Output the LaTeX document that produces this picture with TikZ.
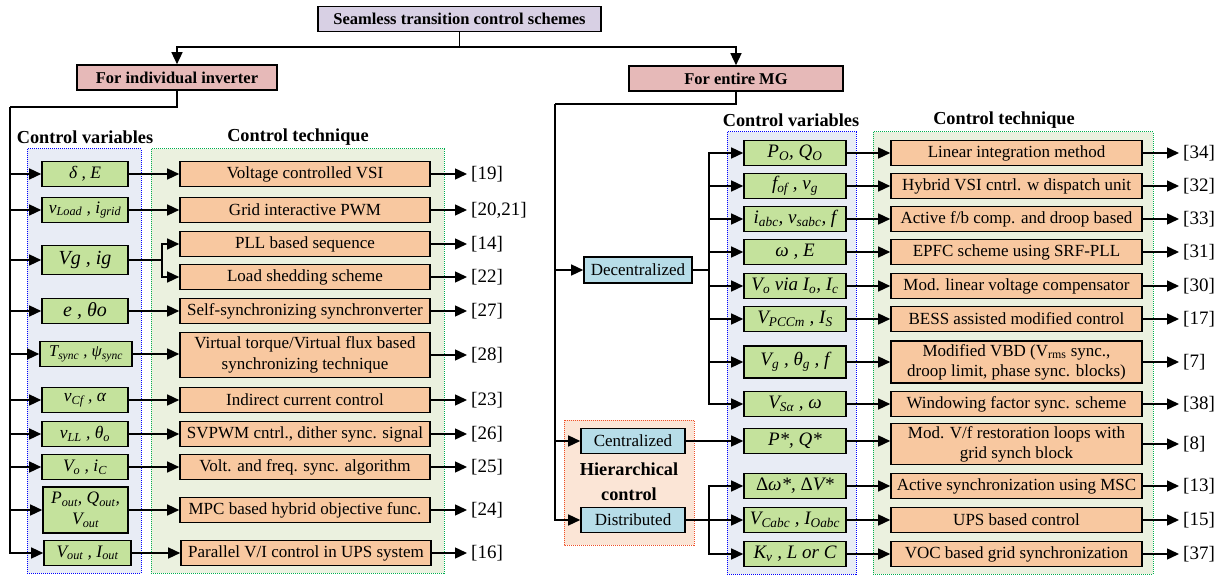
\documentclass[tikz,border=0pt]{standalone}
\usepackage{fontspec}
\setmainfont{Liberation Serif}
\usetikzlibrary{arrows.meta}

\definecolor{titlefill}{RGB}{216,208,228}
\definecolor{groupfill}{RGB}{230,185,184}
\definecolor{varfill}{RGB}{196,226,156}
\definecolor{techfill}{RGB}{248,200,160}
\definecolor{catfill}{RGB}{183,221,232}
\definecolor{varback}{RGB}{232,236,245}
\definecolor{techback}{RGB}{235,241,223}
\definecolor{hierback}{RGB}{251,229,214}
\definecolor{techline}{RGB}{0,176,80}
\definecolor{hierline}{RGB}{240,80,40}

\tikzset{
  box/.style={draw=black, line width=1.6pt, inner sep=1pt, align=center},
  titlebox/.style={box, fill=titlefill, minimum height=25pt, font=\fontsize{16.5}{18}\selectfont\bfseries},
  groupbox/.style={box, fill=groupfill, minimum height=25pt, font=\fontsize{16.5}{18}\selectfont\bfseries},
  varbox/.style={box, fill=varfill, minimum height=25pt, font=\fontsize{17.5}{21}\selectfont\itshape},
  rvarbox/.style={varbox, minimum width=102pt, font=\fontsize{19}{21}\selectfont\itshape},
  techbox/.style={box, fill=techfill, minimum width=250pt, minimum height=25pt, font=\fontsize{17}{20.5}\selectfont},
  catbox/.style={box, fill=catfill, minimum height=25pt, font=\fontsize{17}{19}\selectfont},
  refnum/.style={anchor=west, inner sep=4pt, font=\fontsize{19}{21}\selectfont},
  heading/.style={font=\fontsize{18.3}{21}\selectfont\bfseries},
  region/.style={line width=1pt, densely dotted},
  wire/.style={line width=1.4pt},
  arr/.style={line width=1.4pt, -{Triangle[length=12pt,width=11pt]}},
}

\begin{document}
\begin{tikzpicture}[x=1pt,y=-1pt]
    \useasboundingbox (0,0) rectangle (1224,577);

    % shaded groups
    \draw[region, draw=blue, fill=varback] (27,149) rectangle (141,573);
    \draw[region, draw=techline, fill=techback] (151,149) rectangle (444,573);
    \draw[region, draw=blue, fill=varback] (727,132) rectangle (856,574);
    \draw[region, draw=techline, fill=techback] (873,132) rectangle (1153,574);
    \draw[region, draw=hierline, fill=hierback] (564,420) rectangle (694,545);

    \node[heading] at (85,137) {Control variables};
    \node[heading] at (298,137) {Control technique};
    \node[heading] at (791,120) {Control variables};
    \node[heading] at (1004,120) {Control technique};
    \node[heading, align=center, font=\fontsize{18.3}{25}\selectfont\bfseries] (hiertxt) at (629,482) {Hierarchical\\control};

    % top levels
    \node[titlebox, minimum width=283pt] (title) at (459.5,19) {Seamless transition control schemes};
    \node[groupbox, minimum width=200pt] (indiv) at (177,77.5) {For individual inverter};
    \node[groupbox, minimum width=214pt] (entire) at (736,78.5) {For entire MG};
    \coordinate (split) at (459.5,47);
    \draw[wire] (title) -- (split);
    \draw[arr] (split) -| (indiv);
    \draw[arr] (split) -| (entire);

    % individual inverter: variables
    \node[varbox, minimum width=86pt] (lv1) at (85,174) {δ , E};
    \node[varbox, minimum width=86pt] (lv2) at (85,210) {v\textsubscript{Load} , i\textsubscript{grid}};
    \node[varbox, minimum width=86pt, minimum height=29pt, font=\fontsize{20}{21}\selectfont\itshape] (lv3) at (85,260) {Vg , ig};
    \node[varbox, minimum width=86pt, font=\fontsize{20}{21}\selectfont\itshape] (lv4) at (85,311) {e , θo};
    \node[varbox, minimum width=92pt, font=\fontsize{16.5}{21}\selectfont\itshape] (lv5) at (86,354) {T\textsubscript{sync} , ψ\textsubscript{sync}};
    \node[varbox, minimum width=86pt] (lv6) at (85,400) {v\textsubscript{Cf} , α};
    \node[varbox, minimum width=86pt] (lv7) at (85,434) {v\textsubscript{LL} , θ\textsubscript{o}};
    \node[varbox, minimum width=86pt] (lv8) at (85,467) {V\textsubscript{o} , i\textsubscript{C}};
    \node[varbox, minimum width=85pt, minimum height=46pt] (lv9) at (85.5,510) {P\textsubscript{out}, Q\textsubscript{out},\\V\textsubscript{out}};
    \node[varbox, minimum width=87pt] (lv10) at (87.5,553) {V\textsubscript{out} , I\textsubscript{out}};

    % individual inverter: techniques
    \node[techbox] (lt1) at (305,174) {Voltage controlled VSI};
    \node[techbox] (lt2) at (305,210) {Grid interactive PWM};
    \node[techbox] (lt3a) at (305,244) {PLL based sequence};
    \node[techbox] (lt3b) at (305,277) {Load shedding scheme};
    \node[techbox] (lt4) at (305,311) {Self-synchronizing synchronverter};
    \node[techbox, minimum height=45pt] (lt5) at (305,355) {Virtual torque/Virtual flux based\\synchronizing technique};
    \node[techbox] (lt6) at (305,400) {Indirect current control};
    \node[techbox] (lt7) at (305,434) {SVPWM cntrl., dither sync. signal};
    \node[techbox] (lt8) at (305,467) {Volt. and freq. sync. algorithm};
    \node[techbox] (lt9) at (305,510) {MPC based hybrid objective func.};
    \node[techbox] (lt10) at (306,553) {Parallel V/I control in UPS system};

    \node[refnum] (c19) at (467,174) {[19]};
    \node[refnum] (c20) at (467,210) {[20,21]};
    \node[refnum] (c14) at (467,244) {[14]};
    \node[refnum] (c22) at (467,277) {[22]};
    \node[refnum] (c27) at (467,311) {[27]};
    \node[refnum] (c28) at (467,355) {[28]};
    \node[refnum] (c23) at (467,400) {[23]};
    \node[refnum] (c26) at (467,434) {[26]};
    \node[refnum] (c25) at (467,467) {[25]};
    \node[refnum] (c24) at (467,510) {[24]};
    \node[refnum] (c16) at (467,553) {[16]};

    \coordinate (lbus) at (10,107);
    \draw[wire] (indiv) |- (lbus);
    \draw[arr] (lbus) |- (lv10);
    \draw[arr] (lbus |- lv1) -- (lv1);
    \draw[arr] (lbus |- lv2) -- (lv2);
    \draw[arr] (lbus |- lv3) -- (lv3);
    \draw[arr] (lbus |- lv4) -- (lv4);
    \draw[arr] (lbus |- lv5) -- (lv5);
    \draw[arr] (lbus |- lv6) -- (lv6);
    \draw[arr] (lbus |- lv7) -- (lv7);
    \draw[arr] (lbus |- lv8) -- (lv8);
    \draw[arr] (lbus |- lv9) -- (lv9);

    \draw[arr] (lv1) -- (lt1);
    \draw[arr] (lv2) -- (lt2);
    \coordinate (lsplit) at (162,260);
    \draw[wire] (lv3) -- (lsplit);
    \draw[arr] (lsplit) |- (lt3a);
    \draw[arr] (lsplit) |- (lt3b);
    \draw[arr] (lv4) -- (lt4);
    \draw[arr] (lv5.east) -- (lv5.east -| lt5.west);
    \draw[arr] (lv6) -- (lt6);
    \draw[arr] (lv7) -- (lt7);
    \draw[arr] (lv8) -- (lt8);
    \draw[arr] (lv9) -- (lt9);
    \draw[arr] (lv10) -- (lt10);

    \draw[arr] (lt1) -- (c19);
    \draw[arr] (lt2) -- (c20);
    \draw[arr] (lt3a) -- (c14);
    \draw[arr] (lt3b) -- (c22);
    \draw[arr] (lt4) -- (c27);
    \draw[arr] (lt5) -- (c28);
    \draw[arr] (lt6) -- (c23);
    \draw[arr] (lt7) -- (c26);
    \draw[arr] (lt8) -- (c25);
    \draw[arr] (lt9) -- (c24);
    \draw[arr] (lt10) -- (c16);

    % entire MG: control levels
    \node[catbox, minimum width=108pt, minimum height=26pt] (dec) at (638,270) {Decentralized};
    \node[catbox, minimum width=104pt] (cen) at (633,441) {Centralized};
    \node[catbox, minimum width=104pt] (dist) at (633,520) {Distributed};

    % entire MG: variables
    \node[rvarbox] (rv1) at (795,153) {P\textsubscript{O}, Q\textsubscript{O}};
    \node[rvarbox] (rv2) at (795,186) {f\textsubscript{of} , v\textsubscript{g}};
    \node[rvarbox] (rv3) at (795,219) {i\textsubscript{abc}, v\textsubscript{sabc}, f};
    \node[rvarbox] (rv4) at (795,252) {ω , E};
    \node[rvarbox] (rv5) at (795,286) {V\textsubscript{o} via I\textsubscript{o}, I\textsubscript{c}};
    \node[rvarbox] (rv6) at (795,319) {V\textsubscript{PCCm} , I\textsubscript{S}};
    \node[rvarbox, minimum height=32pt] (rv7) at (795,362) {V\textsubscript{g} , θ\textsubscript{g} , f};
    \node[rvarbox] (rv8) at (795,404) {V\textsubscript{Sα} , ω};
    \node[rvarbox] (rv9) at (795,441) {P*, Q*};
    \node[rvarbox] (rv10) at (795,486) {{\upshape Δ}ω*, {\upshape Δ}V*};
    \node[rvarbox] (rv11) at (795,520) {V\textsubscript{Cabc} , I\textsubscript{Oabc}};
    \node[rvarbox] (rv12) at (795,554) {K\textsubscript{v} , L or C};

    % entire MG: techniques
    \node[techbox, minimum width=251pt] (rt1) at (1016.5,153) {Linear integration method};
    \node[techbox, minimum width=251pt] (rt2) at (1016.5,186) {Hybrid VSI cntrl. w dispatch unit};
    \node[techbox, minimum width=251pt] (rt3) at (1016.5,219) {Active f/b comp. and droop based};
    \node[techbox, minimum width=251pt] (rt4) at (1016.5,252) {EPFC scheme using SRF-PLL};
    \node[techbox, minimum width=251pt] (rt5) at (1016.5,286) {Mod. linear voltage compensator};
    \node[techbox, minimum width=251pt] (rt6) at (1016.5,319) {BESS assisted modified control};
    \node[techbox, minimum width=251pt, minimum height=42pt, font=\fontsize{17}{20}\selectfont] (rt7) at (1016.5,362) {Modified VBD (V\textsubscript{rms} sync.,\\droop limit, phase sync. blocks)};
    \node[techbox, minimum width=251pt] (rt8) at (1016.5,404) {Windowing factor sync. scheme};
    \node[techbox, minimum width=251pt, minimum height=41pt, font=\fontsize{17}{20}\selectfont] (rt9) at (1016.5,444) {Mod. V/f restoration loops with\\grid synch block};
    \node[techbox, minimum width=251pt] (rt10) at (1016.5,486) {Active synchronization using MSC};
    \node[techbox, minimum width=251pt] (rt11) at (1016.5,520) {UPS based control};
    \node[techbox, minimum width=251pt] (rt12) at (1016.5,554) {VOC based grid synchronization};

    \node[refnum] (c34) at (1179,153) {[34]};
    \node[refnum] (c32) at (1179,186) {[32]};
    \node[refnum] (c33) at (1179,219) {[33]};
    \node[refnum] (c31) at (1179,252) {[31]};
    \node[refnum] (c30) at (1179,286) {[30]};
    \node[refnum] (c17) at (1179,319) {[17]};
    \node[refnum] (c7) at (1179,362) {[7]};
    \node[refnum] (c38) at (1179,404) {[38]};
    \node[refnum] (c8) at (1179,444) {[8]};
    \node[refnum] (c13) at (1179,486) {[13]};
    \node[refnum] (c15) at (1179,520) {[15]};
    \node[refnum] (c37) at (1179,554) {[37]};

    \coordinate (rbus) at (555,104);
    \draw[wire] (entire) |- (rbus);
    \draw[arr] (rbus) |- (dist);
    \draw[arr] (rbus |- dec) -- (dec);
    \draw[arr] (rbus |- cen) -- (cen);

    \coordinate (dbus) at (709,270);
    \draw[wire] (dec) -- (dbus);
    \draw[arr] (dbus) |- (rv1);
    \draw[arr] (dbus) |- (rv8);
    \draw[arr] (dbus |- rv2) -- (rv2);
    \draw[arr] (dbus |- rv3) -- (rv3);
    \draw[arr] (dbus |- rv4) -- (rv4);
    \draw[arr] (dbus |- rv5) -- (rv5);
    \draw[arr] (dbus |- rv6) -- (rv6);
    \draw[arr] (dbus |- rv7) -- (rv7);

    \draw[arr] (cen) -- (rv9);

    \coordinate (pbus) at (709,520);
    \draw[wire] (dist) -- (pbus);
    \draw[arr] (pbus) |- (rv10);
    \draw[arr] (pbus) -- (rv11);
    \draw[arr] (pbus) |- (rv12);

    \draw[arr] (rv1) -- (rt1);
    \draw[arr] (rv2) -- (rt2);
    \draw[arr] (rv3) -- (rt3);
    \draw[arr] (rv4) -- (rt4);
    \draw[arr] (rv5) -- (rt5);
    \draw[arr] (rv6) -- (rt6);
    \draw[arr] (rv7) -- (rt7);
    \draw[arr] (rv8) -- (rt8);
    \draw[arr] (rv9.east) -- (rv9.east -| rt9.west);
    \draw[arr] (rv10) -- (rt10);
    \draw[arr] (rv11) -- (rt11);
    \draw[arr] (rv12) -- (rt12);

    \draw[arr] (rt1) -- (c34);
    \draw[arr] (rt2) -- (c32);
    \draw[arr] (rt3) -- (c33);
    \draw[arr] (rt4) -- (c31);
    \draw[arr] (rt5) -- (c30);
    \draw[arr] (rt6) -- (c17);
    \draw[arr] (rt7) -- (c7);
    \draw[arr] (rt8) -- (c38);
    \draw[arr] (rt9) -- (c8);
    \draw[arr] (rt10) -- (c13);
    \draw[arr] (rt11) -- (c15);
    \draw[arr] (rt12) -- (c37);
\end{tikzpicture}
\end{document}
